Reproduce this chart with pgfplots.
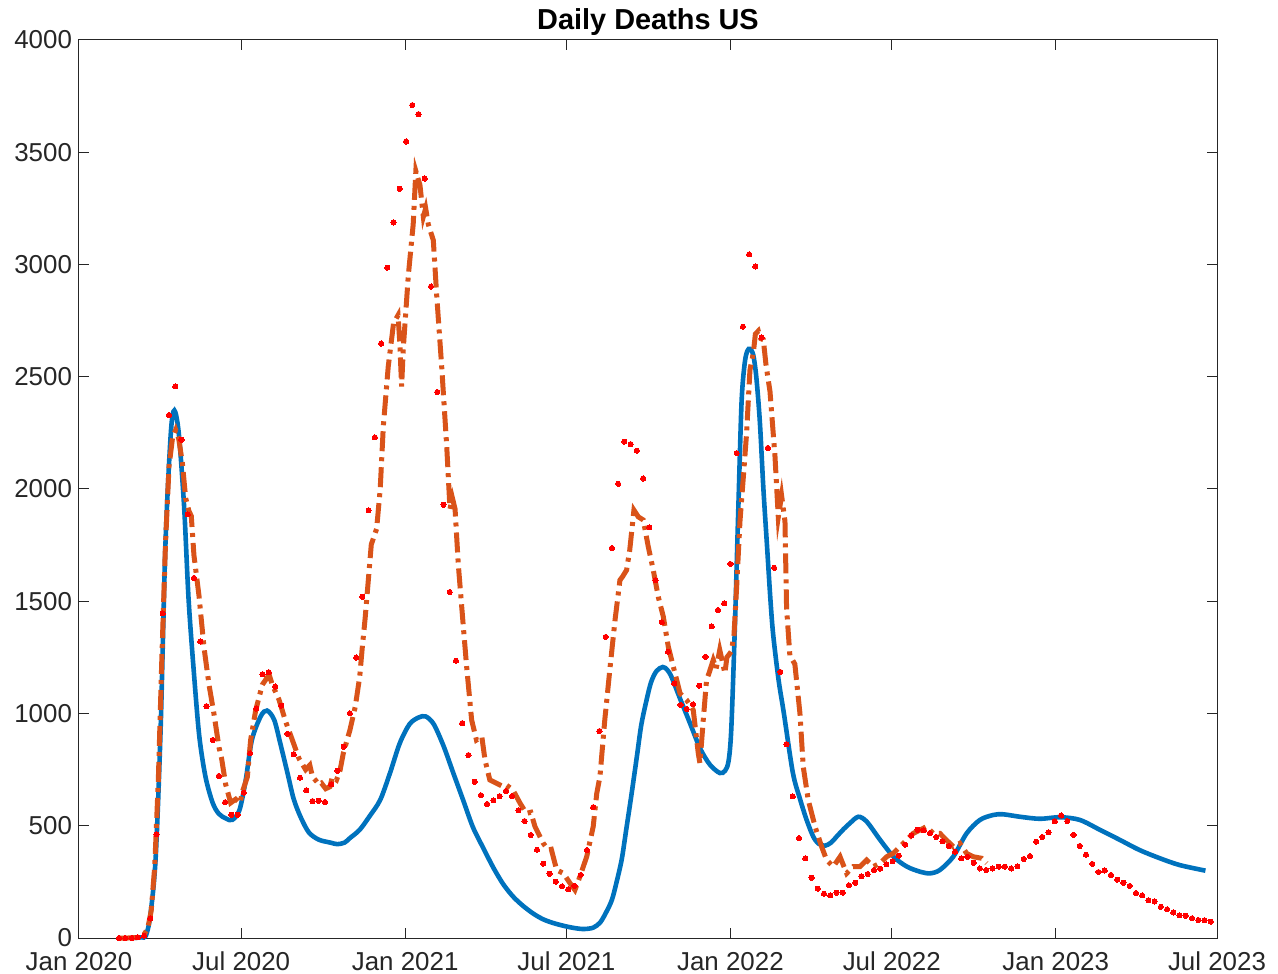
\documentclass[border=0pt]{standalone}
\usepackage{fontspec}
\setmainfont{Liberation Sans}
\usepackage{pgfplots}
\pgfplotsset{compat=1.18}

\definecolor{mblue}{rgb}{0,0.447,0.741}
\definecolor{morange}{rgb}{0.85,0.325,0.098}
\definecolor{axgray}{rgb}{0.15,0.15,0.15}

\begin{document}
\begin{tikzpicture}
\useasboundingbox (-39.5bp,-18bp) rectangle (599.5bp,469bp);
\begin{axis}[
    at={(0,0)}, anchor=south west,
    scale only axis, width=569bp, height=449bp,
    xmin=0, xmax=1277, ymin=0, ymax=4000,
    xtick={0,182,366,547,731,912,1096,1277},
    xticklabels={Jan 2020,Jul 2020,Jan 2021,Jul 2021,Jan 2022,Jul 2022,Jan 2023,Jul 2023},
    ytick={0,500,...,4000},
    tick align=inside, xtick pos=both, ytick pos=both,
    major tick length=5bp,
    axis line style={draw=axgray, line width=0.5bp},
    every tick/.style={draw=axgray, line width=0.5bp},
    tick label style={font=\fontsize{13}{15}\selectfont, text=axgray},
    xticklabel style={yshift=-3.5bp},
    /pgf/number format/assume math mode=true,
    /pgf/number format/1000 sep={},
    title={Daily Deaths US},
    title style={font=\fontsize{14.5}{16}\selectfont\bfseries, anchor=base, at={(0.5,1)}, yshift=-0.5bp},
    clip=false,
]
% model fit
\addplot[mblue, line width=2.3bp, smooth] coordinates {
(60,0) (70,3) (75,10) (80,100) (86,355) (91.6,931) (97,1753) (103,2247) (107,2350)
(112,2247) (118,1918) (123,1507) (129,1178) (135,898) (142,717) (150,602) (157,553)
(165,532) (172,526) (180,569) (187,701) (194,882) (204,988) (211,1013) (219,972)
(226,865) (234,734) (241,618) (249,536) (258,470) (269,438) (282,425) (290,418)
(298,425) (304,445) (315,482) (326,542) (338,615) (349,735) (360,868) (371,953)
(381,982) (389,987) (398,953) (409,856) (420,735) (431,615) (442,494) (454,398)
(465,313) (476,240) (487,185) (498,144) (510,108) (521,83) (532,67) (543,55)
(555,45) (566,40) (577,46) (585,70) (592,118) (598,170) (603,245) (609,350)
(614,481) (620,640) (626,808) (631,950) (637,1062) (642,1140) (648,1189) (655,1207)
(660,1195) (665,1162) (674,1071) (686,953) (697,844) (708,772) (719,735) (725,745)
(729,790) (732,935) (736,1389) (740,1934) (743.5,2388) (747,2560) (750,2615)
(753,2624) (756.6,2597) (760,2500) (764,2300) (768,2000) (772,1750) (776,1500)
(779,1350) (785,1150) (791,1000) (801,737) (809,620) (816.5,526) (824,451) (830,420)
(837,411) (844,425) (850,451) (858,485) (865,511) (874.5,540) (884,518) (899,437)
(914,362) (929,318) (944,295) (955,288) (966,303) (981,362) (996,466) (1011,526)
(1026,548) (1037,551) (1056,540) (1078,531) (1101,538) (1123,526) (1146,481)
(1168,437) (1190,392) (1213,355) (1235,325) (1264,300)
};
% smoothed data
\addplot[morange, line width=2.5bp, line cap=butt,
    dash pattern=on 10bp off 3bp on 2bp off 3bp] coordinates {
(45,0) (55,0) (65,2) (72,10) (77,40) (81,120) (85,320) (89,700) (93,1250) (97,1750)
(101,2100) (105,2230) (108.5,2263) (112,2222) (116,2115) (119.7,1959) (123.4,1901)
(126,1880) (129,1704) (134.7,1523) (140.3,1293) (145.9,1128) (151.5,997) (157.1,849)
(160,800) (164.6,684) (170.2,602) (175.8,618) (180.7,600) (183.3,651) (188.9,717)
(192.6,882) (198.2,1013) (205.7,1128) (211.3,1161) (213.6,1170) (216.9,1128)
(224.4,1062) (231.9,964) (239.4,882) (246.9,799) (254.3,750) (259,770) (262,718)
(266,700) (269.3,684) (272,690) (276.8,665) (281.6,674) (284.3,717) (289,704)
(293,748) (296.6,823) (304,926) (310,1030) (315,1164) (318,1300) (321,1420)
(328,1753) (334,1823) (338,2000) (341.5,2280) (347,2545) (353,2739) (358,2774)
(360,2650) (362,2457) (364,2632) (369.5,2949) (375,3178) (378,3416) (382.6,3354)
(386.4,3213) (389,3250) (392,3178) (397.6,3108) (401.4,2862) (407,2545) (412.6,2193)
(416.3,1911) (419,1960) (422,1911) (425.6,1665) (431,1400) (435,1208) (440.6,971)
(446,882) (452,897) (455.6,793) (461,704) (468.7,689) (476,674) (480,680) (487,659)
(495,600) (502,555) (507,560) (511.7,496) (521,422) (526.6,392) (530,395) (536,303)
(543.6,288) (551,244) (556.5,214) (562,273) (569.7,362) (577,496) (581,644)
(584.6,720) (590,971) (596,1208) (601.5,1416) (607,1594) (610,1610) (614.5,1639)
(618,1728) (622.7,1906) (627.6,1876) (633.2,1862) (638.8,1743) (644.4,1639)
(650,1520) (655.7,1431) (661.3,1297) (668.8,1179) (674.4,1090) (681.9,1060)
(689.3,1015) (694.9,823) (696.8,778) (700.5,971) (704.2,1149) (707,1180)
(711.7,1238) (715,1200) (719,1283) (724.8,1179) (727,1250) (730.5,1268) (732,1277)
(735,1350) (738,1566) (741.7,1856) (745.4,2049) (749,2241) (752.9,2530)
(756.7,2607) (759,2690) (762.3,2704) (765,2670) (767.9,2665) (771,2550)
(775.4,2434) (781,2145) (784.7,1875) (788.4,1971) (792.2,1856) (794,1470)
(797.7,1258) (803.3,1220) (809,1000) (812.7,763) (818.3,615) (826,496) (833.3,407)
(839,347) (846.4,318) (854,362) (861.4,288) (868.8,318) (876.3,318) (883.8,347)
(891.3,318) (898.8,333) (906.3,362) (913.7,377) (921.2,407) (928.7,436) (936.2,466)
(943.6,481) (951,496) (958.6,466) (966,466) (973.5,436) (981,407) (988.5,422)
(996,377) (1003.5,362) (1012.9,355) (1018.5,333)
};
% weekly data
\addplot[color=red, only marks, mark=*, mark size=1.3bp, mark options={fill=red, draw=red, line width=0pt}] coordinates {
(45,0) (52,0) (59,0) (66,3) (73,10) (80,87) (87,462) (94,1446) (101,2329) (108,2457)
(115,2219) (122,1887) (129,1604) (136,1321) (143,1033) (150,882) (157,722) (164,605)
(171,549) (178,549) (185,647) (192,823) (199,1022) (206,1175) (213,1184) (220,1120)
(227,1035) (234,909) (241,818) (248,714) (255,658) (262,610) (269,611) (276,606)
(283,685) (290,745) (297,852) (304,1001) (311,1249) (318,1520) (325,1905) (332,2230)
(339,2648) (346,2986) (353,3187) (360,3337) (367,3548) (374,3710) (381,3670)
(388,3383) (395,2902) (402,2432) (409,1930) (416,1541) (423,1235) (430,957) (437,815)
(444,696) (451,636) (458,597) (465,613) (472,632) (479,655) (486,632) (493,569)
(500,521) (507,459) (514,393) (521,331) (528,286) (535,251) (542,230) (549,217)
(556,232) (563,281) (570,392) (577,583) (584,922) (591,1341) (598,1737) (605,2023)
(612,2211) (619,2200) (626,2171) (633,2047) (640,1829) (647,1594) (654,1407)
(661,1275) (668,1134) (675,1038) (682,1020) (689,1041) (696,1124) (703,1252)
(710,1388) (717,1461) (724,1491) (731,1666) (738,2160) (745,2723) (752,3045)
(759,2991) (766,2675) (773,2183) (780,1649) (787,1185) (794,863) (801,631) (808,445)
(815,355) (822,268) (829,220) (836,197) (843,190) (850,202) (857,202) (864,235)
(871,246) (878,275) (885,285) (892,303) (899,309) (906,328) (913,342) (920,367)
(927,416) (934,457) (941,482) (948,480) (955,468) (962,450) (969,431) (976,410)
(983,384) (990,355) (997,361) (1004,335) (1011,310) (1018,303) (1025,310) (1032,318)
(1039,318) (1046,310) (1053,319) (1060,352) (1067,365) (1074,429) (1081,450)
(1088,471) (1095,520) (1102,546) (1109,521) (1116,459) (1123,410) (1130,371)
(1137,330) (1144,294) (1151,301) (1158,281) (1165,260) (1172,246) (1179,232)
(1186,200) (1193,190) (1200,168) (1207,163) (1214,139) (1221,128) (1228,114)
(1235,101) (1242,99) (1249,88) (1256,80) (1263,79) (1270,73)
};
\end{axis}
\end{tikzpicture}
\end{document}
